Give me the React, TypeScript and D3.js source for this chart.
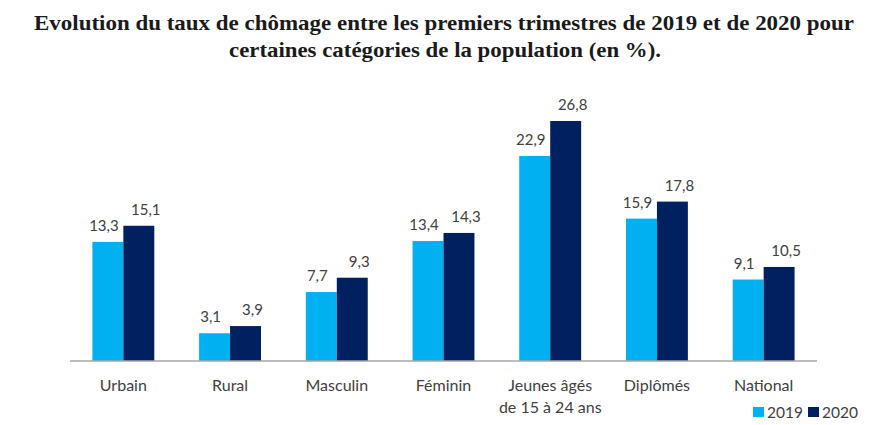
import React from 'react';
import * as d3 from 'd3';

const categories = ['Urbain', 'Rural', 'Masculin', 'Féminin', 'Jeunes âgés\nde 15 à 24 ans', 'Diplômés', 'National'];
const values2019 = [13.3, 3.1, 7.7, 13.4, 22.9, 15.9, 9.1];
const values2020 = [15.1, 3.9, 9.3, 14.3, 26.8, 17.8, 10.5];
const series = ['2019', '2020'];
const colors = ['#00b0f0', '#002060'];

const width = 884;
const height = 425;
const baseY = 361;
const font = 'Lato, "Open Sans", sans-serif';
const titleFont = '"Liberation Serif", serif';
const fmt = (v: number) => v.toFixed(1).replace('.', ',');

const App = () => {
  const x = d3.scaleBand<string>()
    .domain(categories)
    .range([70, 817])
    .paddingInner(0.42)
    .paddingOuter(0.21);

  const xs = d3.scaleBand<string>()
    .domain(series)
    .range([0, x.bandwidth()]);

  // 26.8 -> top at about y=121
  const y = d3.scaleLinear().domain([0, 26.8]).range([baseY, 121]);

  const rows = [values2019, values2020];
  const labelShift = [-4, 7]; // labels sit a little apart from each other

  return (
    <svg width={width} height={height} style={{ position: 'absolute', left: 0, top: 0 }}>
      <rect width={width} height={height} fill="#fff" />
      <text x={444} y={30} textAnchor="middle" fontFamily={titleFont} fontWeight="bold" fontSize={22}
        fill="#1a1a1a" textLength={820} lengthAdjust="spacingAndGlyphs">
        Evolution du taux de chômage entre les premiers trimestres de 2019 et de 2020 pour
      </text>
      <text x={445} y={57} textAnchor="middle" fontFamily={titleFont} fontWeight="bold" fontSize={22}
        fill="#1a1a1a" textLength={432} lengthAdjust="spacingAndGlyphs">
        certaines catégories de la population (en %).
      </text>

      {categories.map((c, i) => (
        <g key={c} transform={`translate(${x(c)},0)`}>
          {series.map((s, j) => {
            const v = rows[j][i];
            const bx = xs(s) ?? 0;
            return (
              <g key={s}>
                <rect x={bx} y={y(v)} width={xs.bandwidth()} height={baseY - y(v)} fill={colors[j]} />
                <text x={bx + xs.bandwidth() / 2 + labelShift[j]} y={y(v) - 11} textAnchor="middle"
                  fontFamily={font} fontSize={15} fill="#404040">
                  {fmt(v)}
                </text>
              </g>
            );
          })}
          {c.split('\n').map((line, k) => (
            <text key={k} x={x.bandwidth() / 2} y={391 + k * 22} textAnchor="middle" fontFamily={font} fontSize={16} fill="#404040">
              {line}
            </text>
          ))}
        </g>
      ))}

      <line x1={70} x2={817} y1={baseY} y2={baseY} stroke="#a6a6a6" strokeWidth={1.5} />

      {series.map((s, j) => (
        <g key={s} transform={`translate(${753 + j * 55},407)`}>
          <rect x={0} y={0} width={11} height={10} fill={colors[j]} />
          <text x={14} y={11} fontFamily={font} fontSize={15.5} fill="#404040">{s}</text>
        </g>
      ))}
    </svg>
  );
};

export default App;
